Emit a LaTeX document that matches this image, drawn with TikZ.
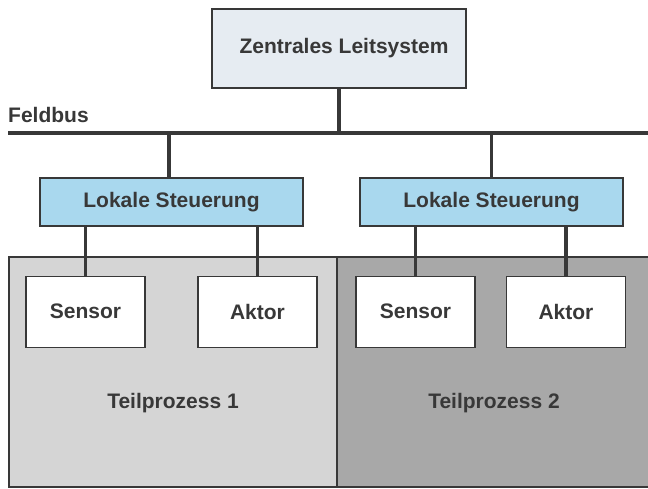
\documentclass[tikz,border=0pt]{standalone}
\usepackage{fontspec}
\setmainfont{Liberation Sans}
\usetikzlibrary{positioning}
\definecolor{leitblau}{HTML}{E6ECF2}
\definecolor{steuerblau}{HTML}{A9D8EE}
\definecolor{prozhell}{HTML}{D5D5D5}
\definecolor{prozdunkel}{HTML}{A8A8A8}
\definecolor{linie}{HTML}{383838}

\begin{document}
\begin{tikzpicture}[x=1pt, y=-1pt,
  every node/.style={font=\bfseries\fontsize{21}{24}\selectfont, text=linie},
  box/.style={draw=linie, line width=1.6pt, inner sep=0pt},
  feld/.style={box, fill=white, minimum width=119pt, minimum height=71pt},
  prozess/.style={draw=linie, line width=1.2pt, minimum height=230pt, inner sep=0pt},
  leitung/.style={draw=linie, line width=3.6pt},
]
\useasboundingbox (0,0) rectangle (648,488);

  % Teilprozesse
  \node[prozess, fill=prozhell, minimum width=328pt] (tp1) at (173,372) {};
  \node[prozess, fill=prozdunkel, minimum width=315pt] (tp2) at (494.5,372) {};
  \node (tp1text) at (173,403) {Teilprozess 1};
  \node (tp2text) at (494,403) {Teilprozess 2};

  % Leitsystem und Feldbus
  \node[box, fill=leitblau, minimum width=254pt, minimum height=79pt] (leit) at (339,48.5) {\hspace{10pt}Zentrales Leitsystem};
  \coordinate (busL) at (8,133);
  \coordinate (busR) at (652,133);
  \node[anchor=west, inner sep=0pt] (feldbus) at (8,115) {Feldbus};

  % lokale Steuerungen
  \node[box, fill=steuerblau, minimum width=263pt, minimum height=48pt] (ls1) at (171.5,202) {Lokale Steuerung};
  \node[box, fill=steuerblau, minimum width=263pt, minimum height=48pt] (ls2) at (491.5,202) {Lokale Steuerung};

  % Sensoren und Aktoren
  \node[feld] (sensor1) at (85.5,312) {\raisebox{2pt}{Sensor}};
  \node[feld] (aktor1) at (257.5,312) {Aktor};
  \node[feld] (sensor2) at (415.5,312) {\raisebox{2pt}{Sensor}};
  \node[feld] (aktor2) at (566,312) {Aktor};

  % Leitungen
  \draw[leitung] (busL) -- (busR);
  \draw[leitung] (leit.south) -- (leit.south |- busL);
  \draw[leitung] ([xshift=-2.5pt]ls1.north) -- ([xshift=-2.5pt]ls1.north |- busL);
  \draw[leitung] (ls2.north) -- (ls2.north |- busL);
  \foreach \f/\s in {sensor1/ls1, aktor1/ls1, sensor2/ls2, aktor2/ls2}
    \draw[leitung] (\f.north) -- (\f.north |- \s.south);
\end{tikzpicture}
\end{document}
